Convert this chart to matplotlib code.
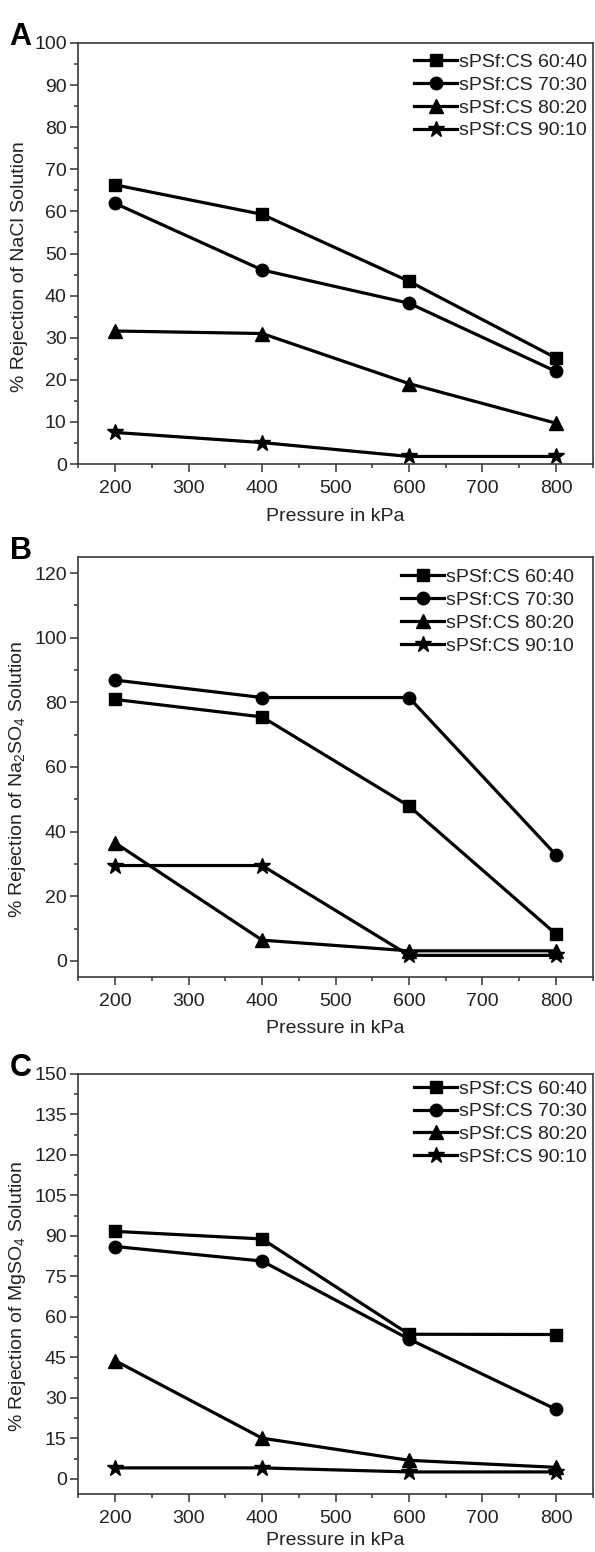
import matplotlib
matplotlib.use("Agg")
import matplotlib.pyplot as plt
from matplotlib.ticker import MultipleLocator

plt.rcParams['font.family'] = ['Liberation Sans', 'DejaVu Sans']
plt.rcParams['mathtext.fontset'] = 'custom'
plt.rcParams['mathtext.rm'] = 'Liberation Sans'
plt.rcParams['mathtext.it'] = 'Liberation Sans:italic'
plt.rcParams['mathtext.default'] = 'regular'

pressure = [200, 400, 600, 800]
labels = ["sPSf:CS 60:40", "sPSf:CS 70:30", "sPSf:CS 80:20", "sPSf:CS 90:10"]
markers = ["s", "o", "^", "*"]
marker_sizes = [8.5, 9.0, 10.0, 12.0]

nacl_6040 = [66.3, 59.3, 43.4, 25.2]
nacl_7030 = [61.9, 46.1, 38.2, 22.0]
nacl_8020 = [31.6, 31.0, 19.1, 9.7]
nacl_9010 = [7.5, 5.1, 1.8, 1.8]

na2so4_6040 = [80.9, 75.5, 47.9, 8.3]
na2so4_7030 = [86.9, 81.5, 81.5, 32.8]
na2so4_8020 = [36.5, 6.4, 3.1, 3.1]
na2so4_9010 = [29.5, 29.5, 1.7, 1.7]

mgso4_6040 = [91.7, 88.9, 53.6, 53.5]
mgso4_7030 = [86.1, 80.7, 51.8, 25.8]
mgso4_8020 = [43.8, 15.1, 6.9, 4.3]
mgso4_9010 = [4.1, 4.1, 2.6, 2.6]

panels = [
    dict(tag="A", ylabel="% Rejection of NaCl Solution",
         series=[nacl_6040, nacl_7030, nacl_8020, nacl_9010],
         ylim=(0, 100), major=10, minor=5, rect=[0.1319, 0.7010, 0.8642, 0.2713],
         leg=(0.997, 0.985), xpad=8),
    dict(tag="B", ylabel="% Rejection of Na$_2$SO$_4$ Solution",
         series=[na2so4_6040, na2so4_7030, na2so4_8020, na2so4_9010],
         ylim=(-5, 125), major=20, minor=10, rect=[0.1319, 0.3705, 0.8642, 0.2706],
         leg=(0.972, 0.982), xpad=7),
    dict(tag="C", ylabel="% Rejection of MgSO$_4$ Solution",
         series=[mgso4_6040, mgso4_7030, mgso4_8020, mgso4_9010],
         ylim=(-5.5, 150), major=15, minor=7.5, rect=[0.1319, 0.0375, 0.8642, 0.2705],
         leg=(0.997, 0.995), xpad=4),
]

fig = plt.figure(figsize=(5.95, 15.52), dpi=100)
fs = 14
for p in panels:
    ax = fig.add_axes(p["rect"])
    for vals, lab, mk, ms in zip(p["series"], labels, markers, marker_sizes):
        ax.plot(pressure, vals, color="black", lw=2.3, marker=mk, ms=ms,
                markerfacecolor="black", markeredgecolor="black", label=lab)
    ax.set_xlim(150, 850)
    ax.set_ylim(*p["ylim"])
    ax.xaxis.set_major_locator(MultipleLocator(100))
    ax.xaxis.set_minor_locator(MultipleLocator(50))
    ax.yaxis.set_major_locator(MultipleLocator(p["major"]))
    ax.yaxis.set_minor_locator(MultipleLocator(p["minor"]))
    ax.tick_params(which="both", direction="out", top=False, right=False,
                   color="#333333", width=1.1, labelsize=fs, labelcolor="#222222")
    ax.tick_params(which="major", length=6)
    ax.tick_params(which="minor", length=3)
    ax.tick_params(axis="x", which="major", pad=5.5)
    ax.tick_params(axis="y", which="major", pad=2.5)
    for s in ax.spines.values():
        s.set_color("#3a3a3a")
        s.set_linewidth(1.2)
    ax.set_xlabel("Pressure in kPa", fontsize=fs, color="#222222", labelpad=p["xpad"])
    ax.set_ylabel(p["ylabel"], fontsize=fs, color="#222222")
    ax.yaxis.set_label_coords(-0.098, 0.47)
    leg = ax.legend(loc="upper right", bbox_to_anchor=p["leg"], frameon=False,
                    fontsize=fs, handlelength=2.2, handletextpad=0.12,
                    labelspacing=0.27, borderaxespad=0.0, borderpad=0.2)
    for t in leg.get_texts():
        t.set_color("#222222")
    x0, y0, w, h = p["rect"]
    fig.text(0.016, y0 + h + 0.004, p["tag"], fontsize=22, fontweight="bold",
             va="center", ha="left")

fig.savefig("out.png", dpi=100)
